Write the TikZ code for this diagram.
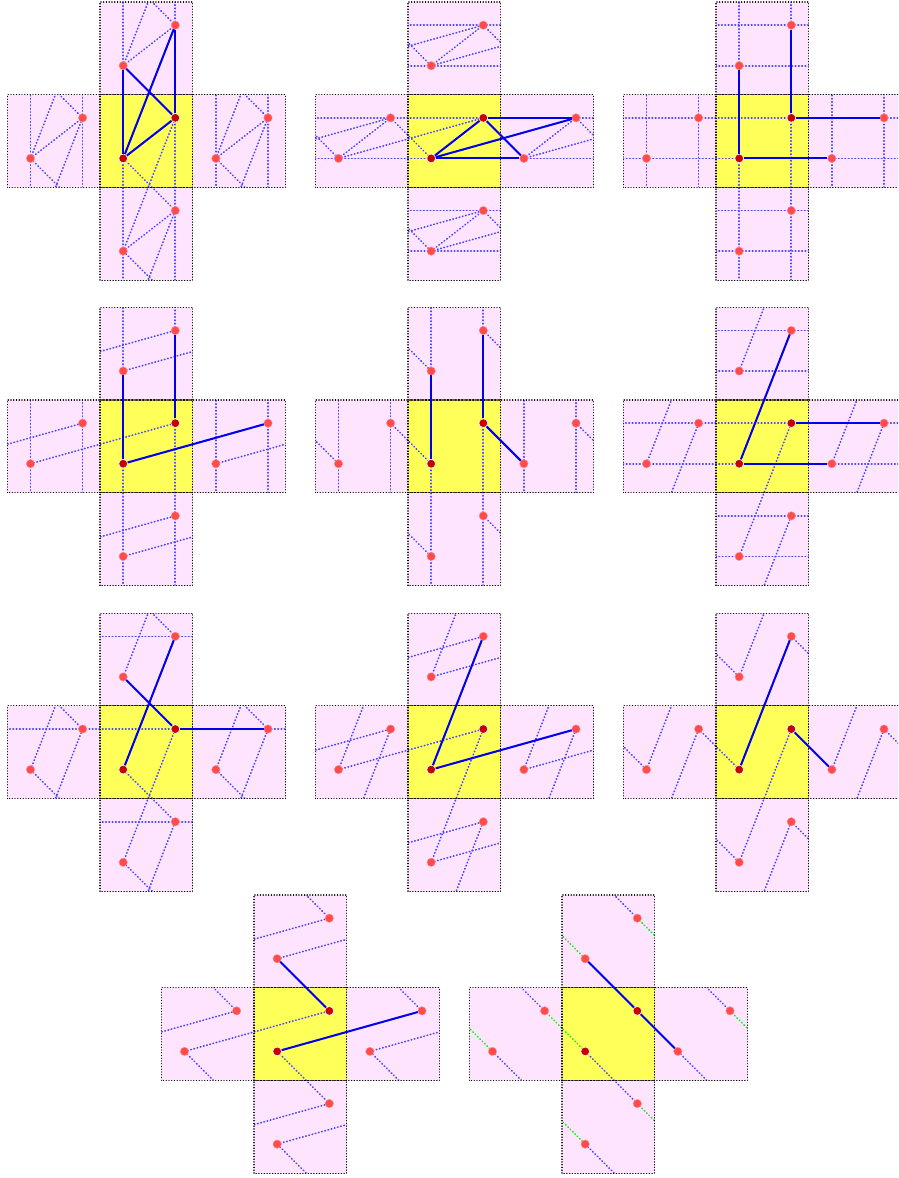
\documentclass[tikz,border=0pt]{standalone}
\definecolor{cellpink}{RGB}{255,228,255}
\definecolor{cellyellow}{RGB}{255,255,90}
\definecolor{latticeb}{RGB}{70,70,255}
\definecolor{latticeg}{RGB}{20,235,20}
\definecolor{solidblue}{RGB}{0,0,235}
\definecolor{ptred}{RGB}{255,75,75}
\definecolor{ptdark}{RGB}{200,0,0}
\tikzset{
  cellframe/.style={draw=black,line width=1.1pt,line cap=round,dash pattern=on 0.3pt off 2.45pt},
  latticeline/.style={line width=1.7pt,line cap=round,dash pattern=on 0.5pt off 2.8pt},
  solidedge/.style={draw=solidblue,line width=2pt},
  copypt/.style={circle,fill=ptred,draw=ptred!60!white,line width=0.4pt,inner sep=0pt,minimum size=8.4pt},
  mainpt/.style={circle,fill=ptdark,draw=white,line width=0.6pt,inner sep=0pt,minimum size=8.8pt}
}
\def\Ax{0.25}\def\Ay{0.3125}\def\Bx{0.8125}\def\By{0.75}
% #1 name, #2 x of the central square, #3 y of its lower side (pixels from the top), #4 edges P/Q/dx/dy/colour
\newcommand\crosspanel[4]{%
\begin{scope}[shift={(#2pt,{(1178-#3)*1pt})},x=92.7pt,y=92.7pt]
  \fill[cellpink] (-1,0) rectangle (2,1) (0,-1) rectangle (1,2);
  \fill[cellyellow] (0,0) rectangle (1,1);
  \begin{scope}
    \clip (-1,0) rectangle (2,1) (0,-1) rectangle (1,2);
    \foreach \p/\q/\sx/\sy/\col in {#4}{
      \draw[latticeline,draw=lattice\col]
      \foreach \ci in {-2,...,2}{
        \foreach \cj in {-3,...,2}{
            ({\csname\p x\endcsname+\ci},{\csname\p y\endcsname+\cj}) --
            ({\csname\q x\endcsname+\ci+\sx},{\csname\q y\endcsname+\cj+\sy})
        }
      };
    }
  \end{scope}
  \foreach \ci/\cj in {0/0,-1/0,1/0,0/-1,0/1}{
    \draw[cellframe] (\ci,\cj) rectangle ({\ci+1},{\cj+1});
  }
  \foreach \ci/\cj in {-1/0,1/0,0/-1,0/1}{
    \node[copypt] (#1-A-\ci-\cj) at ({\Ax+\ci},{\Ay+\cj}) {};
    \node[copypt] (#1-B-\ci-\cj) at ({\Bx+\ci},{\By+\cj}) {};
  }
  \node[mainpt] (#1-A-0-0) at (\Ax,\Ay) {};
  \node[mainpt] (#1-B-0-0) at (\Bx,\By) {};
  \foreach \p/\q/\sx/\sy/\col in {#4}{
    \draw[solidedge] (#1-\p-0-0) -- (#1-\q-\sx-\sy);
  }
\end{scope}}
\begin{document}
\begin{tikzpicture}
\useasboundingbox (0,0) rectangle (898pt,1178pt);
\clip (0,0) rectangle (898pt,1178pt);
\crosspanel{pa}{100}{187.4}{A/A/0/1/b,B/B/0/1/b,A/B/0/0/b,A/B/0/1/b,B/A/0/1/b}
\crosspanel{pb}{408}{187.4}{A/B/0/0/b,B/B/1/0/b,A/A/1/0/b,A/B/1/0/b,B/A/1/0/b}
\crosspanel{pc}{716}{187.4}{A/A/0/1/b,B/B/0/1/b,B/B/1/0/b,A/A/1/0/b}
\crosspanel{pd}{100}{492.7}{A/A/0/1/b,B/B/0/1/b,A/B/1/0/b}
\crosspanel{pe}{408}{492.7}{A/A/0/1/b,B/B/0/1/b,B/A/1/0/b}
\crosspanel{pf}{716}{492.7}{A/B/0/1/b,B/B/1/0/b,A/A/1/0/b}
\crosspanel{pg}{100}{798.6}{A/B/0/1/b,B/A/0/1/b,B/B/1/0/b}
\crosspanel{ph}{408}{798.6}{A/B/0/1/b,A/B/1/0/b}
\crosspanel{pi}{716}{798.6}{A/B/0/1/b,B/A/1/0/b}
\crosspanel{pj}{254}{1080.4}{B/A/0/1/b,A/B/1/0/b}
\crosspanel{pk}{562}{1080.4}{B/A/0/1/b,B/A/1/0/g}
\end{tikzpicture}
\end{document}
